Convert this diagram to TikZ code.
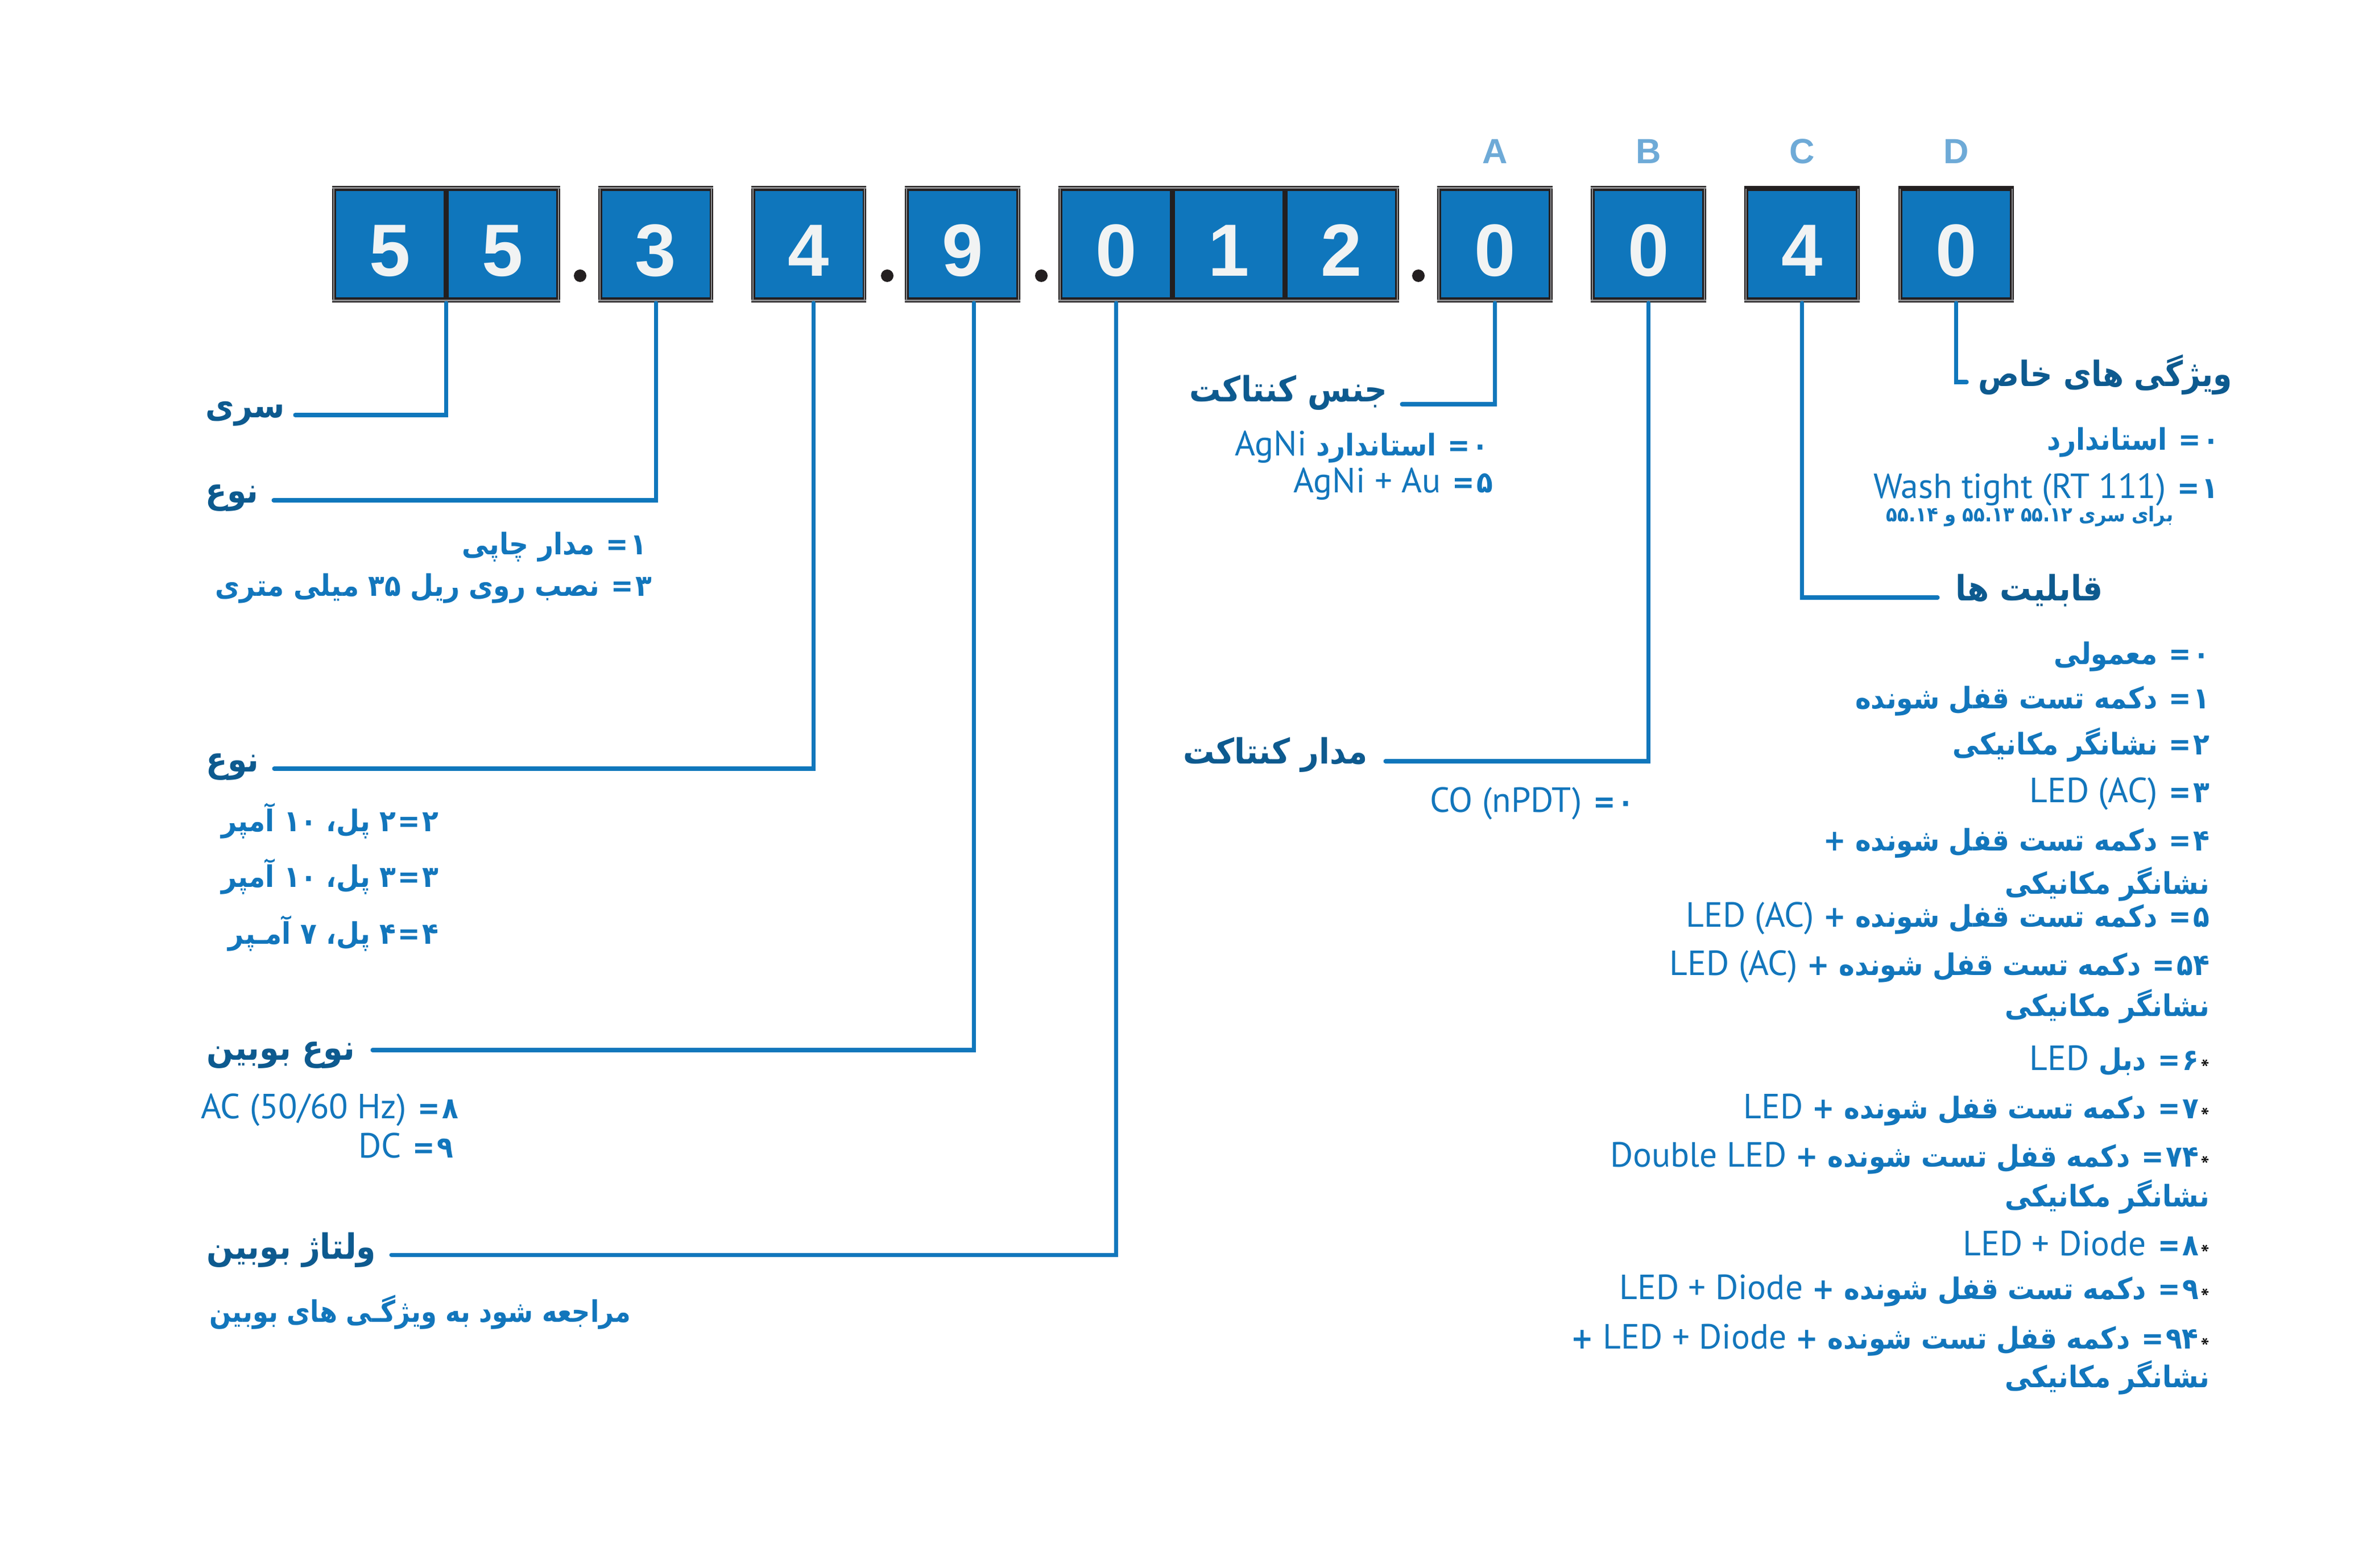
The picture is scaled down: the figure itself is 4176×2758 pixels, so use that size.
\documentclass[tikz,border=0pt]{standalone}
\usepackage{fontspec}
\usepackage{graphicx}
\setmainfont{PT Sans}
\newfontfamily\fa[Script=Arabic]{DejaVu Sans}
\newfontfamily\lat{PT Sans}
\newfontfamily\digf{Liberation Sans}
\TeXXeTstate=1
\definecolor{boxblue}{HTML}{0F76BC}
\definecolor{lineblue}{HTML}{1077BC}
\definecolor{txtblue}{HTML}{1276BC}
\definecolor{headblue}{HTML}{0D5A8F}
\definecolor{letblue}{HTML}{6EAAD7}
\definecolor{framedark}{HTML}{231F20}
\definecolor{framegray}{HTML}{8E8E90}
\definecolor{digitwhite}{HTML}{F1F3F3}
\definecolor{astblue}{HTML}{5FA3D6}
\newcommand\EQ{\kern1pt=\kern1pt}
\newcommand\LT[1]{\beginL\scalebox{1}[0.9]{\lat\mdseries\fontsize{17.5}{20}\selectfont #1}\endL}
\newcommand\RL[1]{\scalebox{1}[1.11]{\beginR #1\endR}}
\newcommand\RLx[2]{\scalebox{#1}[1.11]{\beginR #2\endR}}
\newcommand\AST{\hbox{\scalebox{1}[0.9]{\lat\mdseries\fontsize{13}{13}\selectfont\color{astblue}\raisebox{-4.2pt}{*}}}\kern1pt}
\begin{document}
\begin{tikzpicture}[x=0.1mm,y=-0.1mm,
  frame/.style={rectangle,fill=framedark,inner sep=0pt,minimum height=20.5mm},
  cell/.style={rectangle,fill=boxblue,inner sep=0pt,minimum height=18.7mm,minimum width=18.9mm},
  digit/.style={anchor=base,inner sep=0pt,text=digitwhite,font=\digf\bfseries\fontsize{37}{40}\selectfont},
  letter/.style={anchor=base,inner sep=0pt,text=letblue,font=\digf\bfseries\fontsize{17.5}{20}\selectfont},
  dotn/.style={circle,fill=framedark,inner sep=0pt,minimum size=2.2mm},
  conn/.style={draw=lineblue,line width=2pt,line cap=round},
  head/.style={inner sep=0pt,text=headblue,font=\fa\bfseries\fontsize{15.7}{18}\selectfont},
  item/.style={inner sep=0pt,anchor=base east,text=txtblue,font=\fa\bfseries\fontsize{13.4}{15}\selectfont},
  small/.style={inner sep=0pt,anchor=base east,text=txtblue,font=\fa\bfseries\fontsize{9.2}{11}\selectfont}]
\fill[white] (0,0) rectangle (4176,2758);
\useasboundingbox (0,0) rectangle (4176,2758);
% ---------- frames ----------
\node[frame,minimum width=40.1mm] (b55) at (784.5,429.5) {};
\node[frame,minimum width=20.2mm] (b3) at (1153,429.5) {};
\node[frame,minimum width=20.2mm] (b4) at (1422,429.5) {};
\node[frame,minimum width=20.3mm] (b9) at (1692.5,429.5) {};
\node[frame,minimum width=59.9mm] (b012) at (2160.5,429.5) {};
\node[frame,minimum width=20.3mm] (bA) at (2628.5,429.5) {};
\node[frame,minimum width=20.3mm] (bB) at (2898.5,429.5) {};
\node[frame,minimum width=20.3mm] (bC) at (3168.5,429.5) {};
\node[frame,minimum width=20.3mm] (bD) at (3439.5,429.5) {};
% gray stripes
\foreach \xa/\xb in {584/985,1052/1254,1321/1523,1591/1794,1861/2460,2527/2730,2797/3000}
  {\fill[framegray] (\xa,329) rectangle (\xb,332);}
\foreach \xa/\xb in {584/985,1052/1254,1321/1523,1591/1794,1861/2460,2527/2730,2797/3000,3067/3270,3338/3541}
  {\fill[framegray] (\xa,527) rectangle (\xb,530);
   \fill[framegray] (\xa+2,332) rectangle (\xa+4,527);
   \fill[framegray] (\xb-4,332) rectangle (\xb-2,527);}
% ---------- cells ----------
\node[cell] (c55a) at (685.75,429.5) {};
\node[cell] (c55b) at (883.25,429.5) {};
\node[cell] (c3) at (1153,429.5) {};
\node[cell] (c4) at (1422,429.5) {};
\node[cell] (c9) at (1692.5,429.5) {};
\node[cell] (c012a) at (1962.8,429.5) {};
\node[cell] (c012b) at (2160.5,429.5) {};
\node[cell] (c012c) at (2358.2,429.5) {};
\node[cell] (cA) at (2628.5,429.5) {};
\node[cell] (cB) at (2898.5,429.5) {};
\node[cell] (cC) at (3168.5,429.5) {};
\node[cell] (cD) at (3439.5,429.5) {};
% ---------- digits ----------
\node[digit] (d1) at (685.75,486) {5};
\node[digit] (d2) at (883.25,486) {5};
\node[digit] (d3) at (1153,486) {3};
\node[digit] (d4) at (1422,486) {4};
\node[digit] (d5) at (1692.5,486) {9};
\node[digit] (d6) at (1962.8,486) {0};
\node[digit] (d7) at (2160.5,486) {1};
\node[digit] (d8) at (2358.2,486) {2};
\node[digit] (d9) at (2628.5,486) {0};
\node[digit] (d10) at (2898.5,486) {0};
\node[digit] (d11) at (3168.5,486) {4};
\node[digit] (d12) at (3439.5,486) {0};
% dots
\node[dotn] (p1) at (1020,485) {};
\node[dotn] (p2) at (1560,485) {};
\node[dotn] (p3) at (1831,485) {};
\node[dotn] (p4) at (2494,485) {};
% letters
\node[letter] (lA) at (2628.5,288) {A};
\node[letter] (lB) at (2898.5,288) {B};
\node[letter] (lC) at (3168.5,288) {C};
\node[letter] (lD) at (3439.5,288) {D};
% ---------- connector ends ----------
\coordinate (e55) at (519,730);
\coordinate (e3) at (481,880);
\coordinate (e4) at (482,1352);
\coordinate (e9) at (655,1847);
\coordinate (e012) at (688,2207);
\coordinate (eA) at (2465,711);
\coordinate (eB) at (2436,1339);
\coordinate (eC) at (3407,1051);
\coordinate (eD) at (3458,672);
\draw[conn] (b55.south) |- (e55);
\draw[conn] (b3.south) |- (e3);
\draw[conn] ([xshift=0.8mm]b4.south) |- (e4);
\draw[conn] ([xshift=2mm]b9.south) |- (e9);
\draw[conn] (c012a.south |- b012.south) |- (e012);
\draw[conn] (bA.south) |- (eA);
\draw[conn] (bB.south) |- (eB);
\draw[conn] (bC.south) |- (eC);
\draw[conn] (bD.south) |- (eD);
% ---------- headers ----------
\node[head,anchor=base west] (h55) at (361,735) {\RL{سری}};
\node[head,anchor=base west] (h3) at (361,885) {\RL{نوع}};
\node[head,anchor=base west] (h4) at (362,1357) {\RL{نوع}};
\node[head,anchor=base west] (h9) at (363,1864) {\RL{نوع بوبین}};
\node[head,anchor=base west] (h012) at (363,2214) {\RL{ولتاژ بوبین}};
\node[head,anchor=base east] (hA) at (2440,707) {\RL{جنس کنتاکت}};
\node[head,anchor=base east] (hB) at (2405,1343) {\RL{مدار کنتاکت}};
\node[head,anchor=base west] (hC) at (3438,1056) {\RL{قابلیت ها}};
\node[head,anchor=base west] (hD) at (3478,680) {\RLx{0.97}{ویژگی های خاص}};
% ---------- items: type ----------
\node[item] (t1) at (1138,975) {\RL{۱\EQ{} مدار چاپی}};
\node[item] (t2) at (1147,1048) {\RL{۳\EQ{} نصب روی ریل ۳۵ میلی متری}};
% poles
\node[item] (q1) at (772,1462) {\RL{۲\EQ۲ پل، ۱۰ آمپر}};
\node[item] (q2) at (772,1560) {\RL{۳\EQ۳ پل، ۱۰ آمپر}};
\node[item] (q3) at (772,1660) {\RL{۴\EQ۴ پل، ۷ آمـپر}};
% coil
\node[item] (k1) at (807,1967) {\RL{۸\EQ{} \LT{AC (50/60 Hz)}}};
\node[item] (k2) at (798,2036) {\RL{۹\EQ{} \LT{DC}}};
\node[item,anchor=base west] (v1) at (368,2325) {\RLx{0.95}{مراجعه شود به ویژگـی های بوبین}};
% contact material
\node[item] (m1) at (2618,802) {\RL{۰\EQ{} استاندارد \LT{AgNi}}};
\node[item] (m2) at (2626,867) {\RL{۵\EQ{} \LT{AgNi + Au}}};
% contact circuit
\node[item] (n1) at (2874,1428) {\RL{۰\EQ{} \LT{CO (nPDT)}}};
% special
\node[item] (s1) at (3903,792) {\RL{۰\EQ{} استاندارد}};
\node[item] (s2) at (3901,877) {\RL{۱\EQ{} \LT{Wash tight (RT 111)}}};
\node[small] (s3) at (3822,918) {\RL{برای سری ۵۵.۱۲ ۵۵.۱۳ و ۵۵.۱۴}};
% capabilities
\node[item] (a0) at (3886,1168) {\RL{۰\EQ{} معمولی}};
\node[item] (a1) at (3886,1246) {\RL{۱\EQ{} دکمه تست قفل شونده}};
\node[item] (a2) at (3886,1327) {\RL{۲\EQ{} نشانگر مکانیکی}};
\node[item] (a3) at (3886,1411) {\RL{۳\EQ{} \LT{LED (AC)}}};
\node[item] (a4) at (3886,1496) {\RL{۴\EQ{} دکمه تست قفل شونده +}};
\node[item] (a4b) at (3886,1572) {\RL{نشانگر مکانیکی}};
\node[item] (a5) at (3886,1630) {\RL{۵\EQ{} دکمه تست قفل شونده + \LT{LED (AC)}}};
\node[item] (a54) at (3886,1715) {\RL{۵۴\EQ{} دکمه تست قفل شونده + \LT{LED (AC)}}};
\node[item] (a54b) at (3886,1787) {\RL{نشانگر مکانیکی}};
\node[item] (a6) at (3886,1882) {\RL{\AST۶\EQ{} دبل \LT{LED}}};
\node[item] (a7) at (3886,1967) {\RL{\AST۷\EQ{} دکمه تست قفل شونده + \LT{LED}}};
\node[item] (a74) at (3886,2052) {\RL{\AST۷۴\EQ{} دکمه قفل تست شونده + \LT{Double LED}}};
\node[item] (a74b) at (3886,2122) {\RL{نشانگر مکانیکی}};
\node[item] (a8) at (3886,2208) {\RL{\AST۸\EQ{} \LT{LED + Diode}}};
\node[item] (a9) at (3886,2285) {\RL{\AST۹\EQ{} دکمه تست قفل شونده + \LT{LED + Diode}}};
\node[item] (a94) at (3886,2372) {\RL{\AST۹۴\EQ{} دکمه قفل تست شونده + \LT{LED + Diode} +}};
\node[item] (a94b) at (3886,2440) {\RL{نشانگر مکانیکی}};
\end{tikzpicture}
\end{document}
